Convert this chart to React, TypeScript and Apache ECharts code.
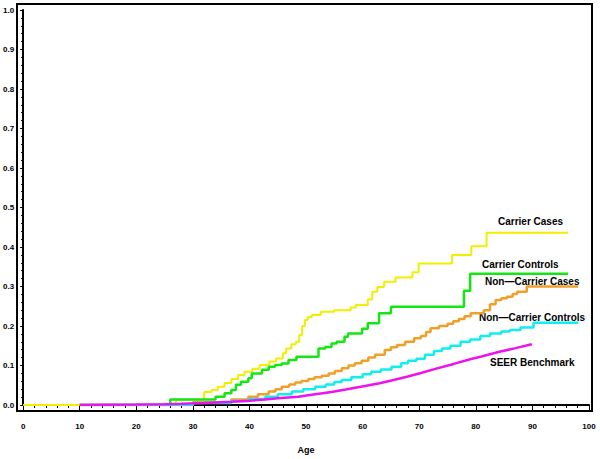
import React, { useEffect, useRef } from "react";
import * as echarts from "echarts";

const xTicks = [0, 10, 20, 30, 40, 50, 60, 70, 80, 90, 100];

const carrierCasesAge = [0, 27, 32, 33.3, 34.4, 35.6, 36.8, 38, 39.1, 40.5, 41.8, 43.5, 44.7, 45.9, 46.5, 47.4, 48.2, 48.8, 49.3, 49.8, 50.3, 51, 52.6, 55, 57.9, 58.8, 60.9, 61.7, 62.6, 63.8, 65.8, 68.8, 69.9, 75.8, 79.2, 81.9, 96.3];
const carrierCasesRisk = [0, 0.013, 0.033, 0.038, 0.046, 0.056, 0.066, 0.076, 0.084, 0.092, 0.101, 0.11, 0.118, 0.131, 0.143, 0.154, 0.16, 0.177, 0.2, 0.215, 0.223, 0.228, 0.236, 0.24, 0.247, 0.253, 0.267, 0.287, 0.299, 0.312, 0.323, 0.336, 0.358, 0.38, 0.402, 0.436, 0.436];

const carrierControlsAge = [10, 26, 34, 35.6, 36.8, 37.6, 38.5, 39.8, 40.4, 42.2, 43.4, 44.5, 45.7, 46.9, 48.3, 52.2, 53.4, 54.5, 55.4, 56.8, 57.4, 59.9, 60.9, 62.9, 65, 77.9, 79, 96.3];
const carrierControlsRisk = [0, 0.014, 0.021, 0.03, 0.038, 0.051, 0.059, 0.068, 0.08, 0.089, 0.097, 0.101, 0.105, 0.114, 0.122, 0.143, 0.147, 0.156, 0.16, 0.173, 0.181, 0.193, 0.207, 0.232, 0.249, 0.289, 0.332, 0.332];

const nonCarrierCasesAge = [10, 30, 36.8, 39.8, 41.5, 43.4, 44.6, 45.7, 47, 48.1, 49.2, 50.4, 51.5, 52.8, 54, 55.1, 56.3, 57.5, 58.6, 59.8, 61, 62.2, 63.9, 65, 66.1, 67.5, 69.1, 70.3, 71.2, 72, 73.5, 75, 76, 77, 78, 79.1, 81.4, 82.5, 83.5, 84.5, 85.5, 86.5, 87.3, 89, 98.1];
const nonCarrierCasesRisk = [0, 0.007, 0.014, 0.021, 0.027, 0.034, 0.04, 0.046, 0.052, 0.057, 0.061, 0.066, 0.07, 0.074, 0.08, 0.086, 0.093, 0.1, 0.106, 0.112, 0.12, 0.127, 0.139, 0.146, 0.152, 0.16, 0.169, 0.175, 0.185, 0.194, 0.2, 0.206, 0.212, 0.218, 0.225, 0.232, 0.24, 0.255, 0.266, 0.27, 0.274, 0.281, 0.287, 0.3, 0.3];

const nonCarrierControlsAge = [10, 30, 36.8, 40, 42.8, 45, 47.5, 49.5, 51.6, 53.5, 55, 56.3, 58, 60, 61.5, 63.2, 65.1, 66.8, 68, 69.5, 71, 72.6, 74, 75.5, 77.3, 79, 80.8, 82.5, 84.5, 86, 87.9, 90.2, 98.1];
const nonCarrierControlsRisk = [0, 0.005, 0.01, 0.015, 0.021, 0.027, 0.034, 0.04, 0.046, 0.052, 0.058, 0.063, 0.07, 0.078, 0.084, 0.09, 0.097, 0.106, 0.112, 0.117, 0.127, 0.137, 0.143, 0.15, 0.16, 0.166, 0.175, 0.181, 0.186, 0.19, 0.196, 0.208, 0.208];

const seerAge = [10, 20, 25, 28, 32, 36.8, 40, 42.7, 45, 48.6, 51, 54.5, 57, 60.4, 63, 65.1, 68, 70.3, 73, 76.1, 79, 81, 84, 87, 89.9];
const seerRisk = [0, 0.001, 0.002, 0.003, 0.005, 0.008, 0.011, 0.014, 0.017, 0.021, 0.026, 0.033, 0.039, 0.048, 0.055, 0.062, 0.072, 0.081, 0.092, 0.104, 0.116, 0.123, 0.134, 0.144, 0.154];

const labelNames = ["Carrier Cases", "Carrier Controls", "Non\u2014Carrier Cases", "Non\u2014Carrier Controls", "SEER Benchmark"];

const pairs = (a: number[], b: number[]) => a.map((v, i) => [v, b[i]]);

export default function App() {
  const ref = useRef<HTMLDivElement>(null);
  useEffect(() => {
    if (!ref.current) return;
    const chart = echarts.init(ref.current, null, { renderer: "svg" });
    const labelPos = [
      [498, 221],
      [482, 264],
      [485, 281],
      [479, 317],
      [490, 362],
    ];
    const mk = (data: number[][], color: string, width: number, step: any) => ({
      type: "line",
      data,
      step,
      showSymbol: false,
      symbol: "none",
      lineStyle: { color, width },
      itemStyle: { color },
      silent: true,
    });
    chart.setOption({
      animation: false,
      backgroundColor: "#ffffff",
      grid: { left: 21, right: 11, top: 10, bottom: 54 },
      xAxis: {
        type: "value",
        min: xTicks[0],
        max: xTicks[xTicks.length - 1],
        interval: 10,
        offset: 6,
        name: "Age",
        nameLocation: "middle",
        nameGap: 34,
        nameTextStyle: { color: "#000", fontSize: 9, fontFamily: "Liberation Sans", fontWeight: "bold" },
        axisLine: { show: true, lineStyle: { color: "#000", width: 2 } },
        axisTick: { show: true, length: 5, lineStyle: { color: "#000", width: 1 } },
        minorTick: { show: true, splitNumber: 5, length: 3, lineStyle: { color: "#000", width: 1 } },
        axisLabel: { color: "#000", fontSize: 8, fontWeight: "bold", fontFamily: "Liberation Sans", margin: 11 },
        splitLine: { show: false },
      },
      yAxis: {
        type: "value",
        min: 0,
        max: 1,
        interval: 0.1,
        offset: 4,
        axisLine: { show: true, lineStyle: { color: "#000", width: 2 } },
        axisTick: { show: true, length: 3, lineStyle: { color: "#000", width: 1 } },
        minorTick: { show: true, splitNumber: 5, length: 2, lineStyle: { color: "#000", width: 1 } },
        axisLabel: {
          color: "#000",
          fontSize: 8,
          fontWeight: "bold",
          fontFamily: "Liberation Sans",
          margin: 5,
          formatter: (v: number) => v.toFixed(1),
        },
        splitLine: { show: false },
      },
      series: [
        mk(pairs(carrierCasesAge, carrierCasesRisk), "#f2ee00", 2, "end"),
        mk(pairs(carrierControlsAge, carrierControlsRisk), "#14e614", 2.5, "end"),
        mk(pairs(nonCarrierCasesAge, nonCarrierCasesRisk), "#f0a028", 2.5, "end"),
        mk(pairs(nonCarrierControlsAge, nonCarrierControlsRisk), "#12eeee", 2.5, "end"),
        mk(pairs(seerAge, seerRisk), "#ee12ee", 2.5, false),
      ],
      graphic: [
        {
          type: "rect",
          shape: { x: 17, y: 4, width: 575, height: 407 },
          style: { fill: "none", stroke: "#000", lineWidth: 2 },
          silent: true,
        },
        ...labelNames.map((t, i) => ({
          type: "text",
          x: labelPos[i][0],
          y: labelPos[i][1],
          style: {
            text: t,
            fill: "#000",
            font: "bold 10px 'Liberation Sans'",
            verticalAlign: "middle",
            align: "left",
          },
          silent: true,
        })),
      ],
    });
    return () => chart.dispose();
  }, []);
  return <div ref={ref} style={{ width: 600, height: 459, position: "absolute", left: 0, top: 0 }} />;
}
